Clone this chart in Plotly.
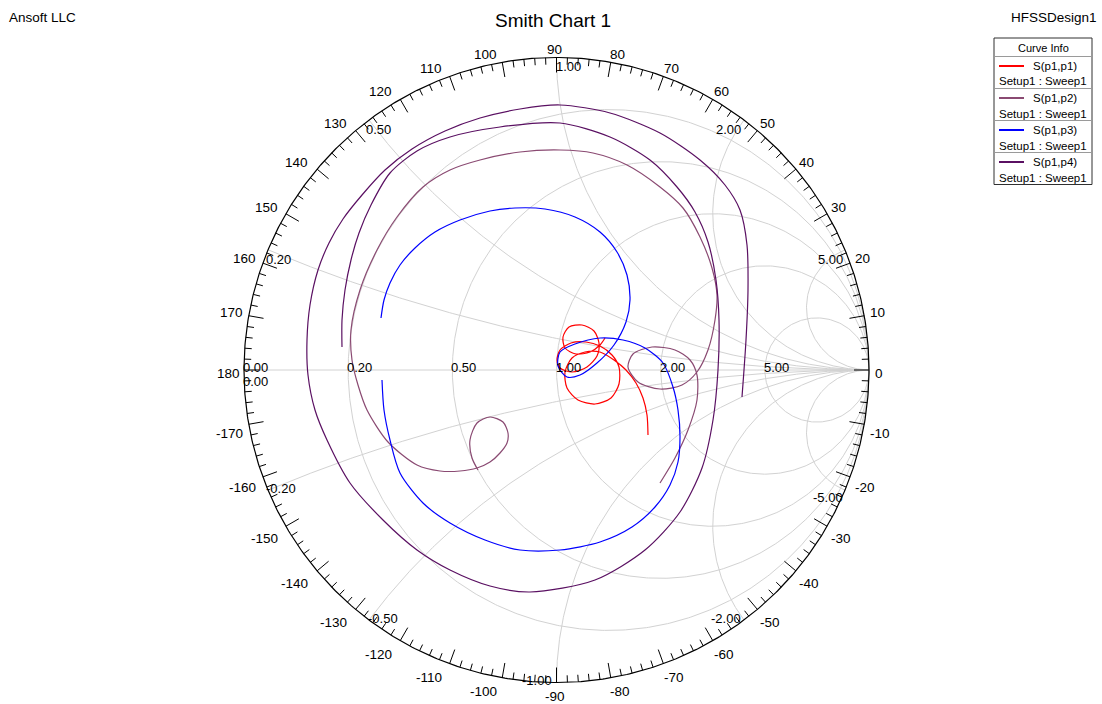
import numpy as np
import plotly.graph_objects as go

# ---------------- data: reflection coefficient (Gamma) traces ----------------
s11_re = [0.2928, 0.2896, 0.2768, 0.2544, 0.2224, 0.184, 0.1392, 0.0912, 0.0496, 0.0272,
          0.0336, 0.0688, 0.1232, 0.1744, 0.200, 0.200, 0.1776, 0.1392, 0.0944, 0.0464,
          0.0112, 0.0016, 0.0112, 0.0496, 0.0976, 0.1296, 0.136, 0.120, 0.0816, 0.040,
          0.0208, 0.0272, 0.0624, 0.1072, 0.1392, 0.1552]
s11_im = [-0.208, -0.144, -0.0896, -0.0416, 0.0, 0.032, 0.0576, 0.0576, 0.0384, -0.0064,
          -0.0576, -0.096, -0.1088, -0.0896, -0.0448, 0.0096, 0.048, 0.0768, 0.0896, 0.0864,
          0.064, 0.032, 0.0064, -0.0064, 0.0096, 0.0448, 0.0864, 0.1248, 0.144, 0.1376,
          0.1056, 0.0704, 0.0512, 0.0576, 0.080, 0.1024]

s12_re = [0.3312, 0.3792, 0.4208, 0.4496, 0.4496, 0.4272, 0.3792, 0.3056, 0.2448, 0.2288,
          0.2608, 0.3312, 0.4016, 0.4496, 0.4848, 0.5072, 0.5136, 0.4976, 0.4592, 0.4048,
          0.3312, 0.2256, 0.1168, 0.0112, -0.1168, -0.2448, -0.3408, -0.4272, -0.5104,
          -0.5744, -0.6288, -0.6576, -0.6544, -0.6352, -0.6064, -0.5392, -0.4464, -0.3728,
          -0.3088, -0.2544, -0.2128, -0.1808, -0.1584, -0.1552, -0.1712, -0.2128, -0.2544,
          -0.2768, -0.2704, -0.2512]
s12_im = [-0.3616, -0.2816, -0.192, -0.096, -0.016, 0.032, 0.064, 0.0736, 0.0512, 0.0096,
          -0.0384, -0.0608, -0.048, -0.0064, 0.064, 0.160, 0.240, 0.3264, 0.4256, 0.5184,
          0.5856, 0.656, 0.6944, 0.704, 0.6976, 0.672, 0.640, 0.5856, 0.4896, 0.384, 0.256,
          0.128, 0.032, -0.048, -0.128, -0.2304, -0.304, -0.3232, -0.3232, -0.3136, -0.2944,
          -0.2656, -0.2336, -0.2016, -0.1664, -0.1504, -0.1696, -0.224, -0.2816, -0.320]

s13_re = [-0.5616, -0.552, -0.5328, -0.5008, -0.4528, -0.3888, -0.3088, -0.2128, -0.1328,
          -0.0368, 0.0592, 0.1392, 0.1936, 0.2256, 0.2352, 0.2224, 0.184, 0.1296, 0.0752,
          0.0336, 0.0048, 0.0112, 0.0592, 0.1392, 0.2128, 0.2832, 0.3408, 0.3728, 0.3888,
          0.3952, 0.3888, 0.3632, 0.3152, 0.2416, 0.1392, 0.0112, -0.1168, -0.2288, -0.3408,
          -0.4272, -0.5008, -0.5328, -0.552, -0.5584]
s13_im = [0.1664, 0.224, 0.2784, 0.336, 0.3904, 0.4416, 0.480, 0.5088, 0.5184, 0.5152,
          0.4896, 0.4416, 0.3776, 0.304, 0.224, 0.1536, 0.080, 0.0224, -0.016, -0.0224,
          0.0128, 0.0576, 0.0832, 0.1024, 0.096, 0.0704, 0.0224, -0.0544, -0.128, -0.2144,
          -0.2944, -0.368, -0.4384, -0.5024, -0.5504, -0.576, -0.576, -0.544, -0.4896,
          -0.4256, -0.3296, -0.224, -0.128, -0.032]

s14_re = [-0.6864, -0.6864, -0.6768, -0.6576, -0.632, -0.5936, -0.5328, -0.4464, -0.3408,
          -0.1808, 0.0112, 0.1712, 0.2992, 0.3856, 0.4432, 0.4848, 0.5104, 0.520, 0.5168,
          0.5008, 0.4656, 0.3952, 0.2832, 0.1232, -0.0848, -0.2128, -0.3408, -0.4464, -0.5552,
          -0.6608, -0.7344, -0.7728, -0.7952, -0.7984, -0.7888, -0.7632, -0.728, -0.6832,
          -0.6224, -0.5488, -0.4624, -0.3568, -0.2448, -0.1168, 0.0112, 0.1712, 0.3312,
          0.4592, 0.5392, 0.5872, 0.6096, 0.6128, 0.6064, 0.5936]
s14_im = [0.0736, 0.160, 0.256, 0.352, 0.4384, 0.528, 0.6304, 0.7008, 0.7456, 0.7776,
          0.7904, 0.7456, 0.672, 0.5856, 0.5056, 0.4096, 0.288, 0.160, 0.0, -0.160, -0.3136,
          -0.4544, -0.576, -0.672, -0.7104, -0.6912, -0.640, -0.576, -0.480, -0.3616, -0.224,
          -0.128, -0.016, 0.096, 0.208, 0.320, 0.4064, 0.4832, 0.560, 0.640, 0.7072, 0.7648,
          0.8064, 0.8352, 0.848, 0.8224, 0.7584, 0.672, 0.592, 0.512, 0.400, 0.256, 0.096,
          -0.0864]

traces = [
    ("S(p1,p1)", s11_re, s11_im, "#ff0000"),
    ("S(p1,p2)", s12_re, s12_im, "#8a4a72"),
    ("S(p1,p3)", s13_re, s13_im, "#0000ff"),
    ("S(p1,p4)", s14_re, s14_im, "#5a1062"),
]
sweep_label = "Setup1 : Sweep1"

# Smith grid values and outer-ring angle labels
real_circles = [0.2, 0.5, 1.0, 2.0, 5.0]
reactance_arcs = [0.2, 0.5, 1.0, 2.0, 5.0]
angle_labels = list(range(-170, 190, 10))

# ---------------- figure geometry ----------------
W, H = 1102, 704
CX, CY, RAD = 556.5, 370.0, 312.5  # pixel centre and radius of the unit circle


def to_data(px, py):
    return (px - CX) / RAD, (CY - py) / RAD


GRID = "#d2d2d2"
FONT = "Liberation Sans, Arial, sans-serif"

fig = go.Figure()


def gamma(z):
    return (z - 1) / (z + 1)


# constant-resistance circles
gx, gy = [], []
t = np.linspace(-np.pi / 2 + 1e-4, np.pi / 2 - 1e-4, 721)
for r in real_circles:
    g = gamma(r + 1j * np.tan(t))
    gx += list(g.real) + [None]
    gy += list(g.imag) + [None]
# constant-reactance arcs
rr = np.concatenate([[0], np.logspace(-3, 4, 600)])
for x in reactance_arcs:
    for s in (1, -1):
        g = gamma(rr + 1j * s * x)
        gx += list(g.real) + [1.0, None]
        gy += list(g.imag) + [0.0, None]
# real axis
gx += [-1, 1, None]
gy += [0, 0, None]
fig.add_trace(go.Scatter(x=gx, y=gy, mode="lines", line=dict(color=GRID, width=1),
                         hoverinfo="skip"))

# outer unit circle
th = np.linspace(0, 2 * np.pi, 721)
fig.add_trace(go.Scatter(x=np.cos(th), y=np.sin(th), mode="lines",
                         line=dict(color="#000000", width=1.2), hoverinfo="skip"))

# angle tick marks (every 2 deg, longer every 10 deg)
tx, ty = [], []
for d in range(-180, 180, 2):
    a = np.radians(d)
    L = 15.0 if d % 10 == 0 else 7.0
    r0 = 1 - L / RAD
    tx += [np.cos(a), r0 * np.cos(a), None]
    ty += [np.sin(a), r0 * np.sin(a), None]
fig.add_trace(go.Scatter(x=tx, y=ty, mode="lines", line=dict(color="#000000", width=1),
                         hoverinfo="skip"))

# data curves
for name, re_, im_, col in traces:
    fig.add_trace(go.Scatter(x=re_, y=im_, mode="lines", name=name,
                             line=dict(color=col, width=1.2, shape="spline", smoothing=0.8)))

ann = []


def lab(text, px, py, xa, ya="middle", size=13):
    x, y = to_data(px, py)
    ann.append(dict(x=x, y=y, text=text, showarrow=False, xanchor=xa, yanchor=ya,
                    font=dict(size=size, color="#000000", family=FONT)))


# angle labels outside the ring
for d in angle_labels:
    a = np.radians(d)
    c, s = np.cos(a), np.sin(a)
    px = CX + RAD * c
    py = CY - RAD * s
    cy = py + 3 - 11 * np.sign(s) * abs(s) ** 0.3
    if abs(c) < 1e-6:
        lab(str(d), px - 2, cy, "center", size=13.5)
    elif c > 0:
        lab(str(d), px + 5 * c - 2.5 * abs(s) - 1, cy, "left", size=13.5)
    else:
        lab(str(d), px - 3 - 5 * abs(np.sin(2 * a)) + 1, cy, "right", size=13.5)

# resistance labels along the real axis
for r in [0.0] + real_circles:
    g = gamma(r)
    lab(f"{r:.2f}", CX + g * RAD - 3, CY - 3, "left")
lab("0.00", CX - RAD - 3, CY + 11, "left")

# reactance labels at the rim: (anchor side, dx, dy) offsets from the rim point
rim_offsets = {
    0.2: ("left", -4, 10), 0.5: ("left", -5, 9), 1.0: ("left", -3, 8.5),
    2.0: ("right", -1, 9), 5.0: ("right", 0, 10),
    -5.0: ("right", 0, 7.5), -2.0: ("right", -1, -2), -1.0: ("right", -2.5, -2.5),
    -0.5: ("left", -3, -2), -0.2: ("left", -4, -2),
}
for x in reactance_arcs:
    for s in (1, -1):
        g = gamma(1j * s * x)
        px = CX + g.real * RAD
        py = CY - g.imag * RAD
        side, dx, dy = rim_offsets[s * x]
        lab(f"{s * x:.2f}", px + dx, py + dy, side)


# header texts
def paper_text(text, px, py, xa, ya, size):
    ann.append(dict(x=px / W, y=1 - py / H, xref="paper", yref="paper", text=text,
                    showarrow=False, xanchor=xa, yanchor=ya,
                    font=dict(size=size, color="#000000", family=FONT)))


paper_text("Smith Chart 1", 553, 20.5, "center", "middle", 19)
paper_text("Ansoft LLC", 7, 18, "left", "middle", 13.5)
paper_text("HFSSDesign1", 1099, 18, "right", "middle", 13.5)

# curve info box
shapes = []
BX0, BX1, BY0 = 994, 1092, 38
ROW0, ROWH = 56.5, 32.0
BY1 = ROW0 + ROWH * len(traces)


def pbox(x0, y0, x1, y1, **kw):
    shapes.append(dict(type=kw.pop("type", "rect"), xref="paper", yref="paper",
                       x0=x0 / W, x1=x1 / W, y0=1 - y0 / H, y1=1 - y1 / H, **kw))


pbox(BX0, BY0, BX1, BY1, line=dict(color="#303030", width=1), fillcolor="white")
paper_text("Curve Info", (BX0 + BX1) / 2, 47.5, "center", "middle", 11)
for i, (name, _, _, col) in enumerate(traces):
    ytop = ROW0 + i * ROWH
    pbox(BX0, ytop, BX1, ytop, type="line", line=dict(color="#9a9a9a", width=1))
    pbox(999, ytop + 9.5, 1024, ytop + 9.5, type="line", line=dict(color=col, width=2))
    paper_text(name, 1055, ytop + 9.5, "center", "middle", 11.5)
    paper_text(sweep_label, 1043, ytop + 25, "center", "middle", 11.5)

fig.update_layout(
    width=W, height=H, margin=dict(l=0, r=0, t=0, b=0),
    paper_bgcolor="white", plot_bgcolor="white", showlegend=False,
    xaxis=dict(range=[-CX / RAD, (W - CX) / RAD], visible=False, fixedrange=True),
    yaxis=dict(range=[(CY - H) / RAD, CY / RAD], visible=False, fixedrange=True),
    annotations=ann, shapes=shapes,
)

fig.write_html("out.html")
